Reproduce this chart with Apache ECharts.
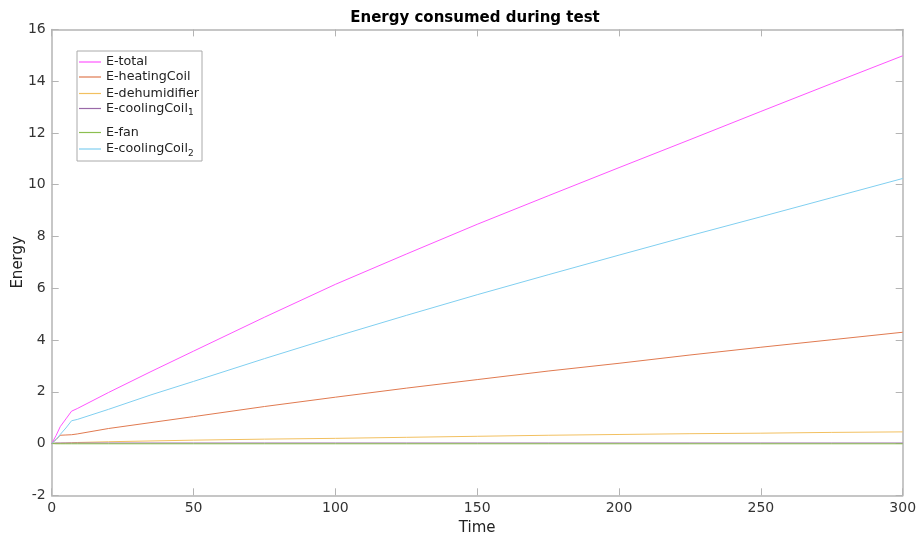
<!DOCTYPE html>
<html><head><meta charset="utf-8">
<script src="https://cdn.jsdelivr.net/npm/echarts@6/dist/echarts.min.js"></script>
<style>html,body{margin:0;padding:0;background:#fff}#c{width:917px;height:536px}</style>
</head><body><div id="c"></div>
<script>
const time = [0, 1.5, 3, 5, 7, 9, 20, 35, 50, 75, 100, 125, 150, 175, 200, 225, 250, 275, 300];
const eTotal = [0, 0.3, 0.65, 0.95, 1.25, 1.35, 1.97, 2.78, 3.57, 4.88, 6.15, 7.32, 8.47, 9.57, 10.66, 11.74, 12.83, 13.91, 14.98];
const eHeatingCoil = [0, 0.15, 0.32, 0.33, 0.34, 0.37, 0.58, 0.81, 1.04, 1.43, 1.79, 2.14, 2.47, 2.8, 3.1, 3.42, 3.72, 4.01, 4.3];
const eDehumidifier = [0, 0.01, 0.01, 0.02, 0.03, 0.04, 0.07, 0.1, 0.13, 0.17, 0.2, 0.24, 0.28, 0.32, 0.35, 0.38, 0.4, 0.43, 0.45];
const eCoolingCoil1 = [0, 0.02, 0.02, 0.02, 0.02, 0.02, 0.02, 0.02, 0.02, 0.02, 0.02, 0.02, 0.02, 0.02, 0.02, 0.02, 0.02, 0.02, 0.02];
const eFan = [0, -0.01, -0.01, -0.01, -0.01, -0.01, -0.01, -0.01, -0.01, -0.01, -0.01, -0.01, -0.01, -0.01, -0.01, -0.01, -0.01, -0.01, -0.01];
const eCoolingCoil2 = [0, 0.15, 0.35, 0.6, 0.88, 0.93, 1.32, 1.88, 2.4, 3.28, 4.13, 4.95, 5.75, 6.52, 7.28, 8.03, 8.76, 9.5, 10.24];
const seriesNames = ['E-total', 'E-heatingCoil', 'E-dehumidifier', 'E-coolingCoil₁', 'E-fan', 'E-coolingCoil₂'];
const seriesValues = [eTotal, eHeatingCoil, eDehumidifier, eCoolingCoil1, eFan, eCoolingCoil2];
const colors = ['#ff55ff', '#e07a50', '#f2c060', '#9a6aa8', '#8cbf50', '#80cff0'];
const xTicks = [0, 50, 100, 150, 200, 250, 300];
const yTicks = [-2, 0, 2, 4, 6, 8, 10, 12, 14, 16];

const chart = echarts.init(document.getElementById('c'), null, {renderer: 'canvas'});
const font = 'DejaVu Sans';
const axisGray = '#b4b4b4';
const legendTops = [55.5, 70.5, 87, 102, 126, 142.5];

function fmt(name) {
  const m = name.match(/^(.*)([₁₂])$/);
  if (m) return '{b|' + m[1] + '}{s|' + (m[2] === '₁' ? '1' : '2') + '}';
  return '{b|' + name + '}';
}

const legends = seriesNames.map((n, i) => ({
  data: [n], left: 79, top: legendTops[i], orient: 'vertical',
  icon: 'rect', itemWidth: 22, itemHeight: 1.2, itemGap: 2,
  padding: 0, selectedMode: false,
  formatter: fmt,
  textStyle: {
    fontFamily: font, fontSize: 12.7, color: '#222',
    rich: {
      b: {fontFamily: font, fontSize: 12.7, color: '#222'},
      s: {fontFamily: font, fontSize: 9, color: '#222', padding: [9, 0, 0, 0]}
    }
  }
}));

const option = {
  backgroundColor: '#fff',
  animation: false,
  title: {
    text: 'Energy consumed during test', left: 470, top: 6, textAlign: 'center',
    textStyle: {fontFamily: font, fontSize: 15, fontWeight: 'bold', color: '#000'}
  },
  legend: legends,
  graphic: [{
    type: 'rect', left: 76.5, top: 50.5, z: 1,
    shape: {width: 125, height: 110},
    style: {fill: '#fff', stroke: '#aaa', lineWidth: 1}
  }],
  grid: {left: 51.7, right: 14.3, top: 29.4, bottom: 40.7, show: false, outerBoundsMode: 'none', containLabel: false},
  xAxis: [{
    type: 'value', min: 0, max: 300, interval: 50,
    name: 'Time', nameLocation: 'middle', nameGap: 25,
    nameTextStyle: {fontFamily: font, fontSize: 15, color: '#222'},
    axisLine: {show: true, onZero: false, lineStyle: {color: axisGray, width: 1.5}},
    axisTick: {show: true, inside: true, length: 7, lineStyle: {color: axisGray}},
    axisLabel: {fontFamily: font, fontSize: 14, color: '#333', margin: 6,
      formatter: v => xTicks.includes(v) ? String(v) : ''},
    splitLine: {show: false}
  }, {
    type: 'value', min: 0, max: 300, interval: 50, position: 'top',
    axisLine: {show: true, onZero: false, lineStyle: {color: axisGray, width: 1.5}},
    axisTick: {show: true, inside: true, length: 7, lineStyle: {color: axisGray}},
    axisLabel: {show: false}, splitLine: {show: false}
  }],
  yAxis: [{
    type: 'value', min: -2, max: 16, interval: 2,
    name: 'Energy', nameLocation: 'middle', nameGap: 26, nameMoveOverlap: false,
    nameTextStyle: {fontFamily: font, fontSize: 15, color: '#222'},
    axisLine: {show: true, onZero: false, lineStyle: {color: axisGray, width: 1.5}},
    axisTick: {show: true, inside: true, length: 7, lineStyle: {color: axisGray}},
    axisLabel: {fontFamily: font, fontSize: 14, color: '#333', margin: 6,
      formatter: v => yTicks.includes(v) ? String(v) : ''},
    splitLine: {show: false}
  }, {
    type: 'value', min: -2, max: 16, interval: 2, position: 'right',
    axisLine: {show: true, onZero: false, lineStyle: {color: axisGray, width: 1.5}},
    axisTick: {show: true, inside: true, length: 7, lineStyle: {color: axisGray}},
    axisLabel: {show: false}, splitLine: {show: false}
  }],
  series: seriesNames.map((n, i) => ({
    name: n, type: 'line', showSymbol: false, symbol: 'none',
    data: time.map((t, j) => [t, seriesValues[i][j]]),
    lineStyle: {color: colors[i], width: 1},
    itemStyle: {color: colors[i]},
    z: 2
  }))
};
chart.setOption(option);
</script></body></html>
